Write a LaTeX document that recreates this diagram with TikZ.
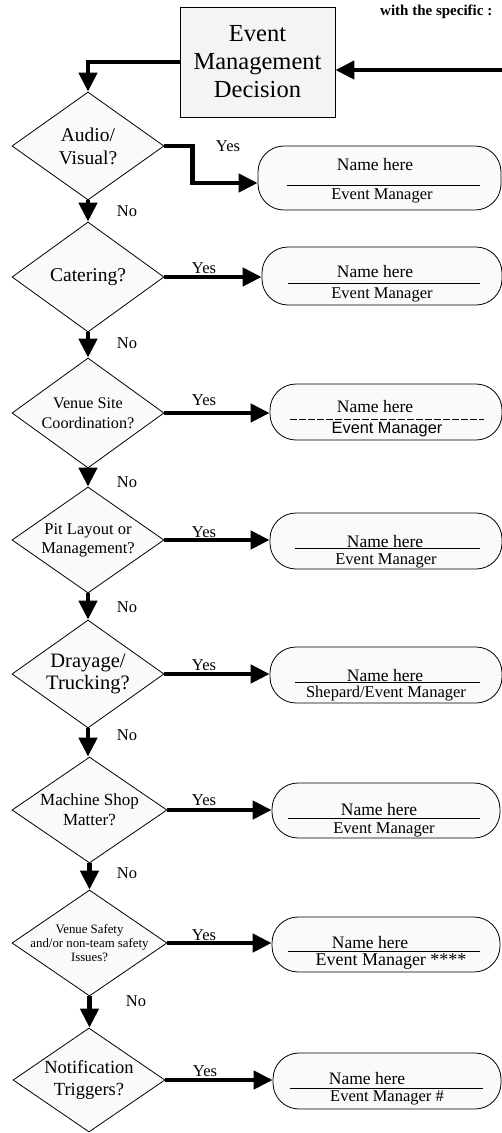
\documentclass[tikz,border=0pt]{standalone}
\usepackage{fontspec}
\setmainfont{Liberation Serif}
\newfontfamily\arialfont{Liberation Sans}
\usetikzlibrary{shapes.geometric,arrows.meta}
\definecolor{boxfill}{HTML}{F4F4F4}
\definecolor{dfill}{HTML}{FAFAFA}
\tikzset{
  dia/.style n args={2}{draw, shape=diamond, fill=dfill, inner sep=0pt, line width=0.8pt,
    minimum width=#1, minimum height=#2},
  rbox/.style n args={2}{draw, fill=dfill, rounded corners=26pt, inner sep=0pt, line width=0.8pt,
    minimum width=#1, minimum height=#2},
  conn/.style={line width=4.5pt, -{Triangle[length=19pt,width=18pt]}},
  nm/.style={inner sep=0pt, font=\fontsize{17.5}{18}\selectfont},
  em/.style={inner sep=0pt, font=\fontsize{16.5}{18}\selectfont},
  yn/.style={inner sep=0pt, font=\fontsize{16.5}{18}\selectfont},
  divider/.style={line width=0.8pt},
}
\begin{document}
\begin{tikzpicture}[x=1pt,y=-1pt]
\useasboundingbox (0,0) rectangle (502,1133);

% top
\node[draw, fill=boxfill, line width=0.8pt, minimum width=155pt, minimum height=110pt, inner sep=0pt,
  align=center, font=\fontsize{24.5}{28}\selectfont] (T) at (257.5,62) {Event\\Management\\Decision};
\node[anchor=west, inner sep=0pt, font=\bfseries\fontsize{15}{16}\selectfont] (hdr) at (380,12) {with the specific :};
\coordinate (R) at (530,70);

% diamonds
\node[dia={152pt}{108pt}, label={[align=center,font=\fontsize{19.5}{23}\selectfont]center:Audio/\\Visual?}] (A1) at (88,146) {};
\node[dia={152pt}{110pt}, label={[align=center,font=\fontsize{19.5}{22}\selectfont]center:Catering?}] (A2) at (88,277) {};
\node[dia={152pt}{110pt}, label={[align=center,font=\fontsize{16.2}{20}\selectfont]center:Venue Site\\Coordination?}] (A3) at (88,413) {};
\node[dia={152pt}{106pt}, label={[align=center,font=\fontsize{16.5}{19}\selectfont]center:Pit Layout or\\Management?}] (A4) at (88,540) {};
\node[dia={152pt}{108pt}, label={[align=center,font=\fontsize{20.5}{22}\selectfont]center:Drayage/\\Trucking?}] (A5) at (88,674) {};
\node[dia={155pt}{106pt}, label={[align=center,font=\fontsize{17}{20}\selectfont]center:Machine Shop\\Matter?}] (A6) at (89.5,810) {};
\node[dia={155pt}{106pt}, label={[align=center,font=\fontsize{12.8}{14}\selectfont]center:Venue Safety\\and/or non-team safety\\Issues?}] (A7) at (89.5,943) {};
\node[dia={152pt}{104pt}, label={[align=center,font=\fontsize{18.5}{22}\selectfont]center:Notification\\Triggers?}] (A8) at (89,1080) {};

% rounded boxes
\node[rbox={243pt}{64pt}] (B1) at (379.5,178) {};
\node[rbox={240pt}{58pt}] (B2) at (382,276) {};
\node[rbox={232pt}{56pt}] (B3) at (386,412) {};
\node[rbox={232pt}{56pt}] (B4) at (386,541) {};
\node[rbox={232pt}{56pt}] (B5) at (386,675) {};
\node[rbox={228pt}{55pt}] (B6) at (386,810.5) {};
\node[rbox={228pt}{55pt}] (B7) at (386,944.5) {};
\node[rbox={228pt}{56pt}] (B8) at (387,1081) {};

% box contents
\node[nm] (B1n) at (375,165) {Name here};
\draw[divider] (287,185) -- (480,185);
\node[em] (B1e) at (382,196) {Event Manager};

\node[nm] (B2n) at (375,272) {Name here};
\draw[divider] (288,283) -- (480,283);
\node[em] (B2e) at (382,295) {Event Manager};

\node[nm] (B3n) at (375,407) {Name here};
\draw[divider, dash pattern=on 7pt off 2pt] (290,419) -- (484,419);
\node[inner sep=0pt, font=\arialfont\fontsize{16.3}{18}\selectfont] (B3e) at (387,430) {Event Manager};

\node[nm] (B4n) at (385,542) {Name here};
\draw[divider] (295,548) -- (480,548);
\node[em] (B4e) at (386,561) {Event Manager};

\node[nm] (B5n) at (385,676) {Name here};
\draw[divider] (295,682) -- (480,682);
\node[em] (B5e) at (386,694) {Shepard/Event Manager};

\node[nm] (B6n) at (379,810) {Name here};
\draw[divider] (288,818) -- (480,818);
\node[em] (B6e) at (384,830) {Event Manager};

\node[nm] (B7n) at (370,943) {Name here};
\draw[divider] (288,951) -- (480,951);
\node[em, font=\fontsize{18}{18}\selectfont] (B7e) at (391,962) {Event Manager ****};

\node[nm] (B8n) at (367,1078) {Name here};
\draw[divider] (290,1088) -- (483,1088);
\node[em] (B8e) at (387,1098) {Event Manager \#};

% connectors
\draw[conn] (R) -- (R -| T.east);
\draw[conn] (T.west) -| (A1.north);
\draw[conn] (A1.east) -- ++(28,0) |- ([yshift=-5pt]B1.west);
\draw[conn] (A2.east) -- (A2.east -| B2.west);
\draw[conn] (A3.east) -- (A3.east -| B3.west);
\draw[conn] (A4.east) -- (A4.east -| B4.west);
\draw[conn] (A5.east) -- (A5.east -| B5.west);
\draw[conn] (A6.east) -- (A6.east -| B6.west);
\draw[conn] (A7.east) -- (A7.east -| B7.west);
\draw[conn] (A8.east) -- (A8.east -| B8.west);

\draw[conn] (A1.south) -- (A1.south |- A2.north);
\draw[conn] (A2.south) -- (A2.south |- A3.north);
\draw[conn] (A3.south) -- (A3.south |- A4.north);
\draw[conn] (A4.south) -- (A4.south |- A5.north);
\draw[conn] (A5.south) -- (A5.south |- A6.north);
\draw[conn] (A6.south) -- (A6.south |- A7.north);
\draw[conn] (A7.south) -- (A7.south |- A8.north);

% Yes / No labels
\node[yn] (Y1) at (228,146) {Yes};
\node[yn] (Y2) at (204,268) {Yes};
\node[yn] (Y3) at (204,400) {Yes};
\node[yn] (Y4) at (204,532) {Yes};
\node[yn] (Y5) at (204,665) {Yes};
\node[yn] (Y6) at (204,800) {Yes};
\node[yn] (Y7) at (204,935) {Yes};
\node[yn] (Y8) at (205,1071) {Yes};

\node[yn] (N1) at (127,211) {No};
\node[yn] (N2) at (127,343) {No};
\node[yn] (N3) at (127,482) {No};
\node[yn] (N4) at (127,607) {No};
\node[yn] (N5) at (127,735) {No};
\node[yn] (N6) at (127,873) {No};
\node[yn] (N7) at (136,1001) {No};
\end{tikzpicture}
\end{document}
